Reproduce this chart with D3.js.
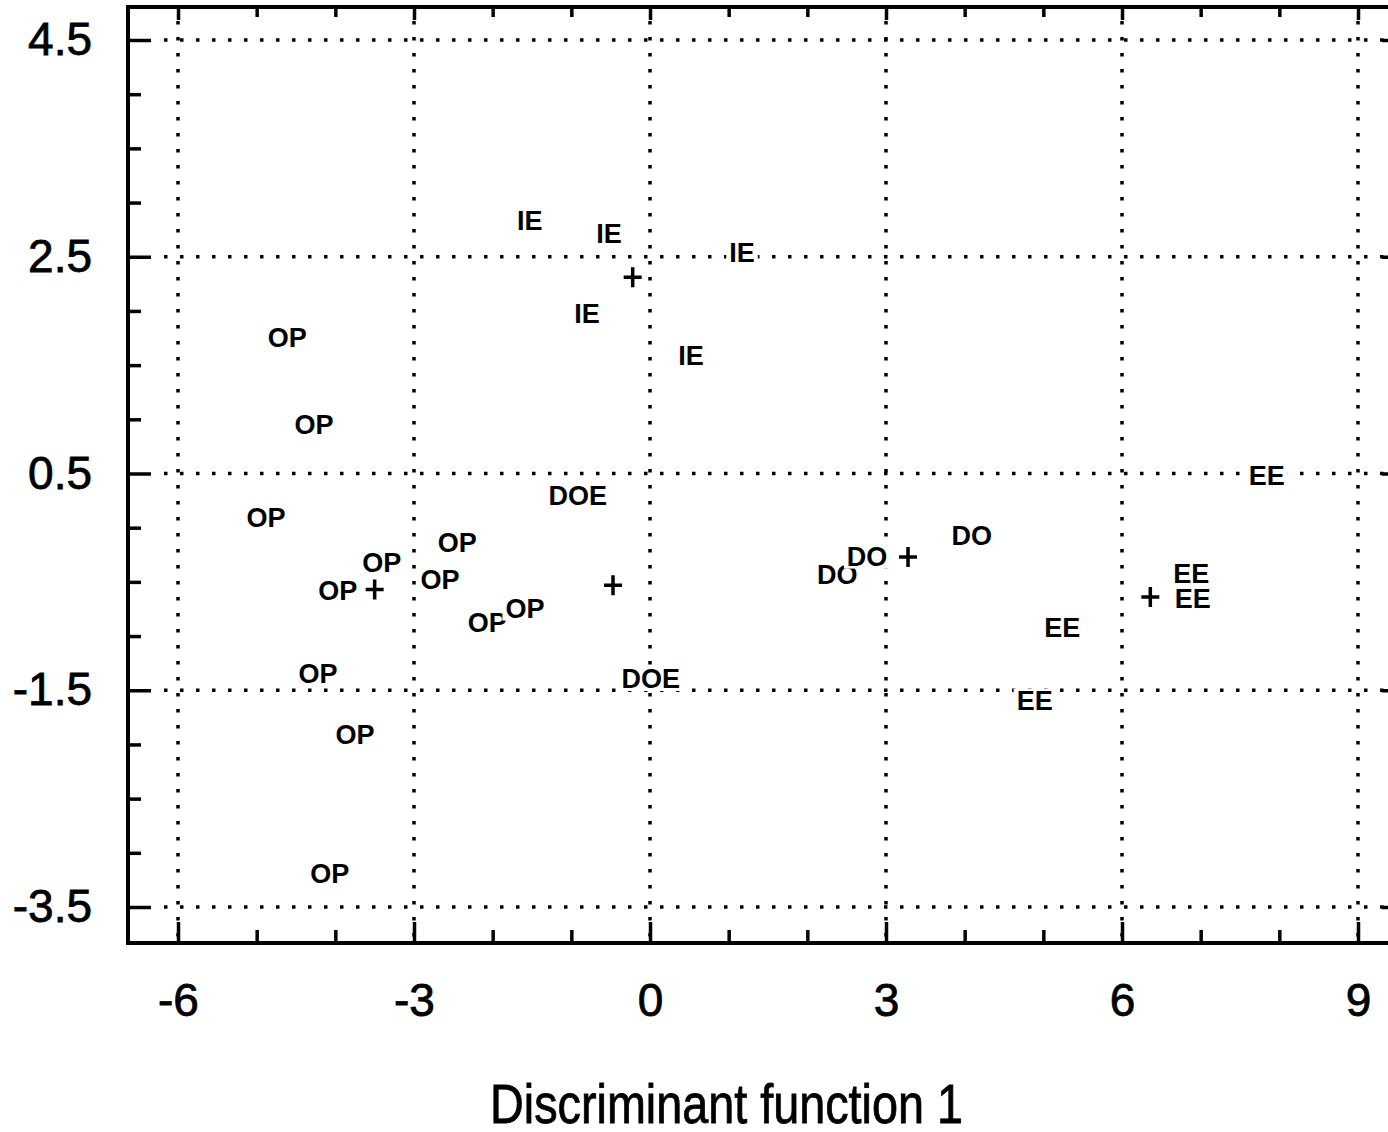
<!DOCTYPE html>
<html>
<head>
<meta charset="utf-8">
<script src="https://cdn.jsdelivr.net/npm/d3@7"></script>
<style>
  html, body { margin: 0; padding: 0; background: #fff; overflow: hidden; }
  svg { display: block; font-family: "Liberation Sans", Arial, sans-serif; }
</style>
</head>
<body>
<div id="chart"></div>
<script>
// group scores on the two discriminant functions
var pointLabels = ["IE", "IE", "IE", "IE", "IE",
                   "OP", "OP", "OP", "OP", "OP", "OP", "OP", "OP", "OP", "OP", "OP", "OP",
                   "DOE", "DOE",
                   "DO", "DO", "DO",
                   "EE", "EE", "EE", "EE", "EE"];
var pointX = [-1.53, -0.52, 1.17, -0.80, 0.52,
              -4.61, -4.27, -4.88, -3.41, -3.97, -2.45, -2.67, -2.07, -1.59, -4.22, -3.75, -4.07,
              -0.92, 0.01,
              4.09, 2.38, 2.76,
              7.84, 6.88, 6.90, 5.24, 4.89];
var pointY = [2.84, 2.72, 2.54, 1.98, 1.59,
              1.76, 0.95, 0.10, -0.32, -0.58, -0.13, -0.48, -0.87, -0.74, -1.34, -1.91, -3.19,
              0.30, -1.39,
              -0.07, -0.43, -0.26,
              0.48, -0.42, -0.65, -0.92, -1.59];

// group centroids
var centroidX = [-0.22, -3.50, -0.47, 3.28, 6.36];
var centroidY = [2.31, -0.57, -0.53, -0.27, -0.64];

var xMajor = [-6, -3, 0, 3, 6, 9];
var xMinor = [-5, -4, -2, -1, 1, 2, 4, 5, 7, 8];
var yMajor = [4.5, 2.5, 0.5, -1.5, -3.5];
var yMinor = [4, 3.5, 3, 2, 1.5, 1, 0, -0.5, -1, -2, -2.5, -3];

var xTitle = "Discriminant function 1";

var width = 1388,
    height = 1132,
    plotLeft = 128, plotTop = 7, plotRight = 1405, plotBottom = 943;

var svg = d3.select("#chart")
    .append("svg")
    .attr("width", width)
    .attr("height", height);

var x = d3.scaleLinear().domain([-6, 9]).range([178, 1358]);
var y = d3.scaleLinear().domain([-3.5, 4.5]).range([907, 40]);

/* dotted grid */
var grid = svg.append("g")
    .attr("stroke", "#000")
    .attr("stroke-width", 3.5)
    .attr("stroke-dasharray", "3.5,12.5");

grid.selectAll("line.gx")
    .data(xMajor)
    .enter().append("line")
    .attr("class", "gx")
    .attr("x1", function(d) { return x(d); })
    .attr("x2", function(d) { return x(d); })
    .attr("y1", plotTop + 14)
    .attr("y2", plotBottom);

grid.selectAll("line.gy")
    .data(yMajor)
    .enter().append("line")
    .attr("class", "gy")
    .attr("x1", plotLeft + 36)
    .attr("x2", plotRight)
    .attr("y1", function(d) { return y(d); })
    .attr("y2", function(d) { return y(d); });

/* axes: ticks point inwards */
function styleAxis(g) {
    g.select(".domain").remove();
    g.selectAll(".tick line").attr("stroke", "#000").attr("stroke-width", 3.5);
    g.selectAll(".tick text")
        .attr("fill", "#000")
        .attr("stroke", "#000")
        .attr("stroke-width", 0.8)
        .style("font-size", "46px")
        .style("font-family", "'Liberation Sans', Arial, sans-serif");
}

svg.append("g")
    .attr("transform", "translate(" + plotLeft + ",0)")
    .call(d3.axisLeft(y).tickValues(yMajor).tickSize(-23).tickPadding(36).tickFormat(d3.format(".1f")))
    .call(styleAxis);
svg.append("g")
    .attr("transform", "translate(" + plotLeft + ",0)")
    .call(d3.axisLeft(y).tickValues(yMinor).tickSize(-13).tickFormat(""))
    .call(styleAxis);
svg.append("g")
    .attr("transform", "translate(" + plotRight + ",0)")
    .call(d3.axisRight(y).tickValues(yMajor).tickSize(-23).tickFormat(""))
    .call(styleAxis);
svg.append("g")
    .attr("transform", "translate(" + plotRight + ",0)")
    .call(d3.axisRight(y).tickValues(yMinor).tickSize(-15).tickFormat(""))
    .call(styleAxis);

svg.append("g")
    .attr("transform", "translate(0," + plotBottom + ")")
    .call(d3.axisBottom(x).tickValues(xMajor).tickSize(-21).tickPadding(40).tickFormat(d3.format("d")))
    .call(styleAxis);
svg.append("g")
    .attr("transform", "translate(0," + plotBottom + ")")
    .call(d3.axisBottom(x).tickValues(xMinor).tickSize(-13).tickFormat(""))
    .call(styleAxis);
svg.append("g")
    .attr("transform", "translate(0," + plotTop + ")")
    .call(d3.axisTop(x).tickValues(xMajor).tickSize(-13).tickFormat(""))
    .call(styleAxis);
svg.append("g")
    .attr("transform", "translate(0," + plotTop + ")")
    .call(d3.axisTop(x).tickValues(xMinor).tickSize(-10).tickFormat(""))
    .call(styleAxis);

// minus signs look like hyphens in the original
svg.selectAll(".tick text").text(function() { return this.textContent.replace("\u2212", "-"); });

/* frame */
svg.append("path")
    .attr("d", "M" + plotLeft + "," + plotTop + "H" + plotRight + "V" + plotBottom + "H" + plotLeft + "Z")
    .attr("fill", "none")
    .attr("stroke", "#000")
    .attr("stroke-width", 4);

/* point labels with white boxes */
var pts = pointLabels.map(function(d, i) { return { label: d, x: pointX[i], y: pointY[i] }; });

var lab = svg.append("g")
    .selectAll("g")
    .data(pts)
    .enter().append("g")
    .attr("transform", function(d) { return "translate(" + x(d.x) + "," + y(d.y) + ")"; });

lab.append("rect").attr("fill", "#fff");
lab.append("text")
    .attr("text-anchor", "middle")
    .attr("dy", "0.36em")
    .style("font-size", "27px")
    .style("font-weight", "bold")
    .text(function(d) { return d.label; });
lab.each(function() {
    var g = d3.select(this);
    var b = g.select("text").node().getBBox();
    g.select("rect")
        .attr("x", b.x - 3)
        .attr("y", b.y + 3)
        .attr("width", b.width + 6)
        .attr("height", b.height - 6);
});

/* centroids */
svg.append("g")
    .selectAll("path")
    .data(centroidX)
    .enter().append("path")
    .attr("d", function(d, i) {
        var cx = x(d), cy = y(centroidY[i]);
        return "M" + (cx - 9) + "," + cy + "H" + (cx + 9) + "M" + cx + "," + (cy - 10) + "V" + (cy + 10);
    })
    .attr("stroke", "#000")
    .attr("stroke-width", 3.5)
    .attr("fill", "none");

/* axis title */
svg.append("text")
    .attr("x", 490)
    .attr("y", 1123)
    .attr("textLength", 473)
    .attr("lengthAdjust", "spacingAndGlyphs")
    .attr("stroke", "#000")
    .attr("stroke-width", 0.8)
    .style("font-size", "55px")
    .text(xTitle);
</script>
</body>
</html>
